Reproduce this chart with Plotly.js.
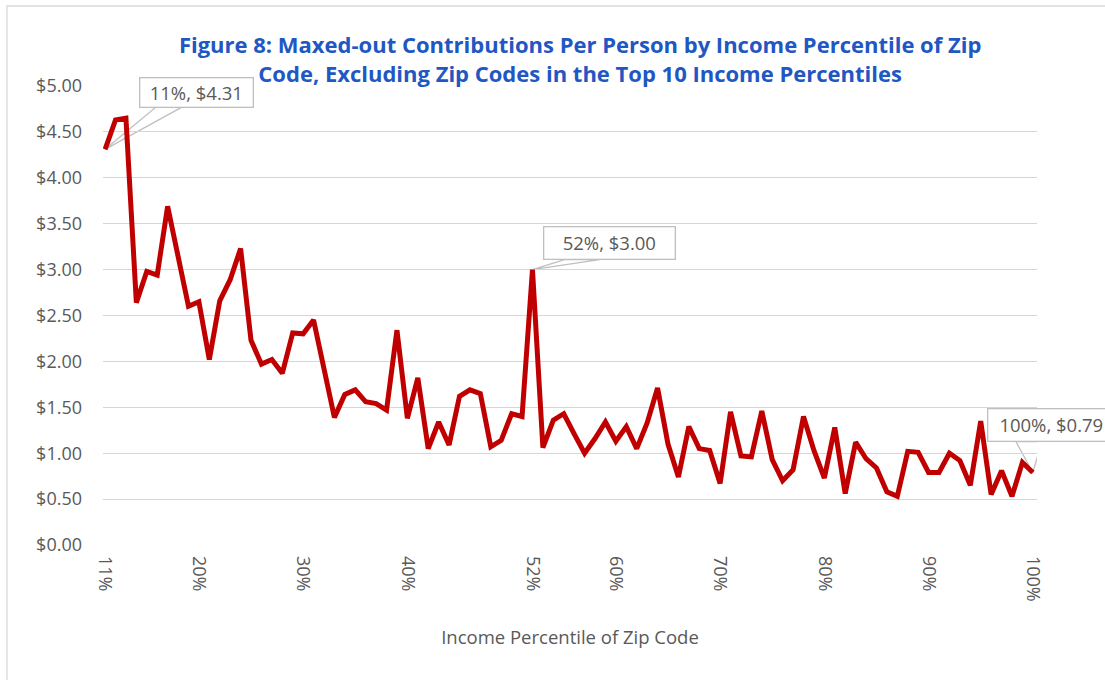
<!DOCTYPE html>
<html>
<head>
<meta charset="utf-8">
<script src="https://cdn.plot.ly/plotly-3.0.1.min.js"></script>
<style>
html,body{margin:0;padding:0;background:#fff;}
#chart{width:1105px;height:680px;}
</style>
</head>
<body>
<div id="chart"></div>
<script>
// Income percentile of zip code (categories, %)
const percentiles = [11,12,13,14,15,16,17,18,19,20,
  21,22,23,24,25,26,27,28,29,30,
  31,32,33,34,35,36,37,38,39,40,
  41,42,43,44,45,46,47,48,49,50,
  51,52,53,54,55,56,57,58,59,60,
  61,62,63,64,65,66,67,68,69,70,
  71,72,73,74,75,76,77,78,79,80,
  81,82,83,84,85,86,87,88,89,90,
  91,92,93,94,95,96,97,98,99,100];

// Maxed-out contributions per person ($)
const contributions = [4.31,4.63,4.65,2.64,2.98,2.94,3.69,3.15,2.60,2.65,
  2.02,2.66,2.89,3.23,2.23,1.97,2.02,1.87,2.31,2.30,
  2.45,1.92,1.39,1.64,1.69,1.56,1.54,1.47,2.34,1.38,
  1.82,1.05,1.34,1.09,1.62,1.69,1.65,1.07,1.14,1.43,
  1.40,3.00,1.06,1.36,1.43,1.21,1.00,1.16,1.34,1.13,
  1.29,1.05,1.33,1.71,1.10,0.74,1.29,1.05,1.03,0.67,
  1.45,0.97,0.96,1.46,0.93,0.70,0.82,1.40,1.03,0.73,
  1.28,0.56,1.12,0.94,0.84,0.58,0.53,1.02,1.01,0.79,
  0.79,1.00,0.92,0.65,1.35,0.55,0.81,0.53,0.90,0.79];

// Tick labels shown on the x axis
const xTickVals = [11,20,30,40,52,60,70,80,90,100];
const xTickText = ["11%","20%","30%","40%","52%","60%","70%","80%","90%","100%"];

// Labelled points (percentile)
const labelledPoints = [11,52,100];

const titleText = "Figure 8: Maxed-out Contributions Per Person by Income Percentile of Zip<br>Code, Excluding Zip Codes in the Top 10 Income Percentiles";
const xTitle = "Income Percentile of Zip Code";

// callout styling (pixel offsets relative to the point)
const calloutStyle = [
  {boxDx: 91, boxUp: 57, w: 108, h: 24, wedge: [53, 80], wedgeUp: 44},
  {boxDx: 77, boxUp: 27, w: 126, h: 27, wedge: [32, 67], wedgeUp: 10},
  {boxDx: 19, boxUp: 47, w: 122, h: 27, wedge: [-17, 9], wedgeUp: 31}
];

const grey = '#595959';
const font = '"Open Sans", "Noto Sans", sans-serif';

const annotations = [];
const shapes = [];
labelledPoints.forEach((p, i) => {
  const idx = percentiles.indexOf(p);
  const v = contributions[idx];
  const s = calloutStyle[i];
  annotations.push({
    x: p, y: v, xref: 'x', yref: 'y',
    text: p + '%, $' + v.toFixed(2),
    showarrow: false,
    xshift: s.boxDx, yshift: s.boxUp,
    xanchor: 'center', yanchor: 'middle',
    width: s.w, height: s.h,
    bgcolor: '#FFFFFF', bordercolor: '#BFBFBF', borderwidth: 1.3, borderpad: 2,
    font: {family: font, size: 18.5, color: grey}
  });
  shapes.push({
    type: 'path', layer: 'below',
    xref: 'x', yref: 'y', xsizemode: 'pixel', ysizemode: 'pixel',
    xanchor: p, yanchor: v,
    path: 'M0,0 L' + s.wedge[0] + ',' + s.wedgeUp + ' L' + s.wedge[1] + ',' + s.wedgeUp + ' Z',
    fillcolor: '#FFFFFF', line: {color: '#BFBFBF', width: 1.3}
  });
});

// outer chart border
shapes.push({type: 'rect', xref: 'paper', yref: 'paper', layer: 'below',
  x0: -0.1028, x1: 1.2, y0: -0.4, y1: 1.1743,
  line: {color: '#D9D9D9', width: 1.3}, fillcolor: 'rgba(0,0,0,0)'});

const trace = {
  x: percentiles, y: contributions,
  type: 'scatter', mode: 'lines',
  line: {color: '#C00000', width: 5},
  hoverinfo: 'skip'
};

const layout = {
  width: 1105, height: 680,
  margin: {l: 103, r: 68, t: 86, b: 135, pad: 0},
  paper_bgcolor: '#FFFFFF', plot_bgcolor: '#FFFFFF',
  showlegend: false,
  hovermode: false,
  font: {family: font, color: grey},
  title: {
    text: titleText,
    font: {family: font, size: 22, color: '#2157C3', weight: 'bold'},
    x: 0.525, xref: 'container', xanchor: 'center',
    y: 1 - 53/680, yref: 'container', yanchor: 'middle'
  },
  xaxis: {
    range: [10.8, 100.4],
    tickvals: xTickVals, ticktext: xTickText,
    tickangle: 90,
    showgrid: false, zeroline: false, showline: false, ticks: '',
    ticklabelstandoff: 10,
    tickfont: {family: font, size: 18, color: grey},
    title: {text: xTitle, font: {family: font, size: 18.5, color: grey}, standoff: 30}
  },
  yaxis: {
    range: [0, 5], dtick: 0.5, tick0: 0,
    tickformat: '$.2f',
    showgrid: true, gridcolor: '#D6D6D6', gridwidth: 1,
    zeroline: false, showline: false, ticks: '',
    ticklabelstandoff: 20,
    tickfont: {family: font, size: 18, color: grey}
  },
  annotations: annotations,
  shapes: shapes
};

Plotly.newPlot('chart', [trace], layout, {displayModeBar: false, staticPlot: true});
</script>
</body>
</html>
